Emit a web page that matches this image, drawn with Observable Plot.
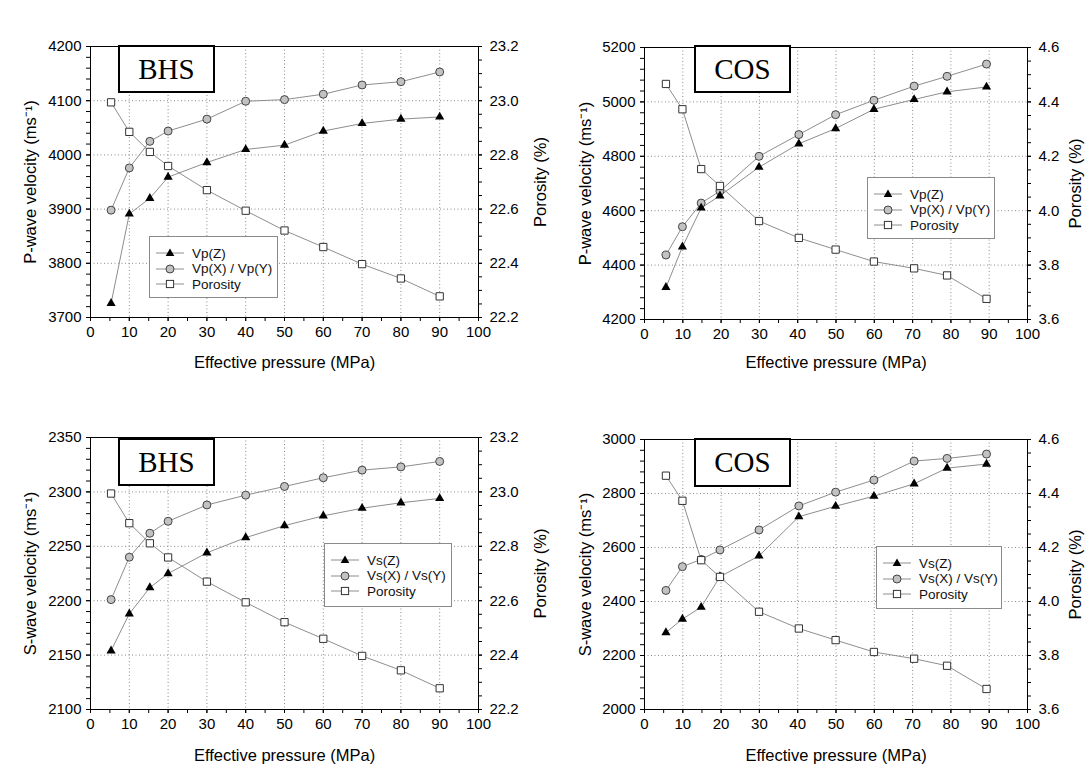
<!DOCTYPE html>
<html>
<head>
<meta charset="utf-8">
<script src="https://cdn.jsdelivr.net/npm/d3@7"></script>
<script src="https://cdn.jsdelivr.net/npm/@observablehq/plot@0.6"></script>
<style>
  body { margin: 0; background: #fff; }
  #wrap { position: relative; width: 1088px; height: 771px; overflow: hidden; background: #fff;
          font-family: "Liberation Sans", Arial, sans-serif; color: #000; }
  .panel { position: absolute; }
  .panel svg { position: absolute; left: 0; top: 0; }
  .tag { position: absolute; border: 2px solid #000; background: #fff; box-sizing: border-box;
         font-family: "Liberation Serif", "Times New Roman", serif; font-size: 29px;
         display: flex; align-items: center; justify-content: center; }
  .legend { position: absolute; border: 1px solid #8a8a8a; background: #fff; box-sizing: border-box; }
  .legend .row { position: absolute; left: 0; height: 16px; display: flex; align-items: center;
                 font-size: 13.5px; color: #111; white-space: nowrap; }
  .legend .row svg { display: block; margin-left: 6px; margin-right: 8px; }
</style>
</head>
<body>
<div id="wrap"></div>
<script>
// ---------- data ----------
const pressureBHS = [5.3, 10, 15.3, 20, 30, 40, 50, 60, 70, 80, 90];
const pressureCOS = [5.6, 9.9, 14.8, 19.7, 29.9, 40.3, 49.9, 59.9, 70.4, 79, 89.3];

const vpZ_BHS  = [3726, 3891, 3920, 3959, 3986, 4010, 4018, 4044, 4058, 4066, 4070];
const vpXY_BHS = [3898, 3976, 4025, 4044, 4066, 4099, 4102, 4112, 4129, 4135, 4153];
const vsZ_BHS  = [2154, 2188, 2212, 2225, 2244, 2258, 2269, 2278, 2285, 2290, 2294];
const vsXY_BHS = [2201, 2240, 2262, 2273, 2288, 2297, 2305, 2313, 2320, 2323, 2328];
const porosity_BHS = [22.994, 22.885, 22.811, 22.759, 22.670, 22.594, 22.521, 22.460, 22.397, 22.344, 22.278];

const vpZ_COS  = [4318, 4467, 4610, 4655, 4760, 4846, 4902, 4973, 5009, 5037, 5055];
const vpXY_COS = [4437, 4541, 4628, 4672, 4800, 4880, 4953, 5006, 5058, 5094, 5139];
const vsZ_COS  = [2285, 2335, 2379, 2492, 2569, 2714, 2753, 2790, 2836, 2894, 2909];
const vsXY_COS = [2441, 2529, 2556, 2591, 2665, 2754, 2805, 2850, 2920, 2930, 2946];
const porosity_COS = [4.466, 4.373, 4.153, 4.091, 3.962, 3.900, 3.857, 3.813, 3.788, 3.762, 3.676];

// tick labels
const xTicks = [0, 10, 20, 30, 40, 50, 60, 70, 80, 90, 100];
const vpTicksBHS = [3700, 3800, 3900, 4000, 4100, 4200];
const vsTicksBHS = [2100, 2150, 2200, 2250, 2300, 2350];
const vpTicksCOS = [4200, 4400, 4600, 4800, 5000, 5200];
const vsTicksCOS = [2000, 2200, 2400, 2600, 2800, 3000];
const porTicksBHS = [22.2, 22.4, 22.6, 22.8, 23.0, 23.2];
const porTicksCOS = [3.6, 3.8, 4.0, 4.2, 4.4, 4.6];

const xTitle = "Effective pressure (MPa)";
const porTitle = "Porosity (%)";

// ---------- drawing ----------
const FONT = "'Liberation Sans', Arial, sans-serif";
const LINE = "#8e8e8e";
const TICKFS = 15;
const TITLEFS = 16.5;
const GRID = { stroke: "#8a8a8a", strokeOpacity: 1, strokeDasharray: "1,2.5" };
const rows = (xs, ys) => xs.map((x, i) => ({ x, y: ys[i] }));
const minor = (ticks, n) => {
  const step = (ticks[1] - ticks[0]) / n, out = [];
  for (let v = ticks[0]; v <= ticks[ticks.length - 1] + step / 2; v += step) out.push(+v.toFixed(6));
  return out;
};

const wrap = document.getElementById("wrap");

function drawPanel(c) {
  const W = 544, H = c.h;
  const div = document.createElement("div");
  div.className = "panel";
  Object.assign(div.style, { left: c.left + "px", top: c.top + "px", width: W + "px", height: H + "px" });
  const common = {
    width: W, height: H,
    marginLeft: c.ml, marginRight: c.mr, marginTop: c.mt, marginBottom: c.mb,
    style: { background: "transparent", fontFamily: FONT, fontSize: TICKFS + "px", color: "#000", overflow: "visible" }
  };
  const vel = Plot.plot({
    ...common,
    x: { domain: [0, 100] },
    y: { domain: [c.vTicks[0], c.vTicks[c.vTicks.length - 1]] },
    marks: [
      Plot.gridX(xTicks.slice(1, -1), GRID),
      Plot.gridY(c.vTicks.slice(1, -1), GRID),
      Plot.axisX(minor(xTicks, 2), { tickSize: 4, tickFormat: () => "", label: null }),
      Plot.axisX(xTicks, { tickSize: 4, tickPadding: 5, fontSize: TICKFS, label: null }),
      Plot.axisY(minor(c.vTicks, 5), { tickSize: 4, tickFormat: () => "", label: null }),
      Plot.axisY(c.vTicks, { tickSize: 4, tickPadding: 5, fontSize: TICKFS, tickFormat: d3.format("d"), label: null }),
      Plot.frame({ stroke: "#000" }),
      Plot.text([xTitle], { frameAnchor: "bottom", dy: c.xdy, lineAnchor: "middle", textAnchor: "middle", fontSize: TITLEFS }),
      Plot.text([c.vTitle], { frameAnchor: "left", dx: c.ldx, rotate: -90, lineAnchor: "middle", textAnchor: "middle", fontSize: TITLEFS }),
      Plot.line(rows(c.xs, c.z), { x: "x", y: "y", stroke: LINE, strokeWidth: 1 }),
      Plot.line(rows(c.xs, c.xy), { x: "x", y: "y", stroke: LINE, strokeWidth: 1 }),
      Plot.dot(rows(c.xs, c.xy), { x: "x", y: "y", symbol: "circle", r: 4, fill: "#c2c2c2", stroke: "#444", strokeWidth: 1 }),
      Plot.dot(rows(c.xs, c.z), { x: "x", y: "y", symbol: "triangle", r: 3.4, fill: "#000" })
    ]
  });
  const por = Plot.plot({
    ...common,
    x: { domain: [0, 100], axis: null },
    y: { domain: [c.pTicks[0], c.pTicks[c.pTicks.length - 1]] },
    marks: [
      Plot.axisY(minor(c.pTicks, 4), { anchor: "right", tickSize: 3, tickFormat: () => "", label: null }),
      Plot.axisY(c.pTicks, { anchor: "right", tickSize: 3, tickPadding: 8, fontSize: TICKFS, tickFormat: d3.format(".1f"), label: null }),
      Plot.text([porTitle], { frameAnchor: "right", dx: c.rdx, rotate: -90, lineAnchor: "middle", textAnchor: "middle", fontSize: TITLEFS }),
      Plot.line(rows(c.xs, c.por), { x: "x", y: "y", stroke: LINE, strokeWidth: 1 }),
      Plot.dot(rows(c.xs, c.por), { x: "x", y: "y", symbol: "square", r: 4.1, fill: "#fff", stroke: "#333", strokeWidth: 1 })
    ]
  });
  div.appendChild(vel);
  div.appendChild(por);
  wrap.appendChild(div);

  // sample tag
  const tag = document.createElement("div");
  tag.className = "tag";
  tag.textContent = c.tag;
  Object.assign(tag.style, { left: c.tagBox[0] + "px", top: c.tagBox[1] + "px", width: c.tagBox[2] + "px", height: c.tagBox[3] + "px" });
  wrap.appendChild(tag);

  // legend
  const lg = document.createElement("div");
  lg.className = "legend";
  Object.assign(lg.style, { left: c.legBox[0] + "px", top: c.legBox[1] + "px", width: c.legBox[2] + "px", height: c.legBox[3] + "px" });
  const sym = [
    `<polygon points="14,2.5 18.3,10 9.7,10" fill="#000"/>`,
    `<circle cx="14" cy="7" r="4" fill="#c2c2c2" stroke="#444"/>`,
    `<rect x="10.4" y="3.4" width="7.2" height="7.2" fill="#fff" stroke="#333"/>`
  ];
  c.legend.forEach((name, i) => {
    const r = document.createElement("div");
    r.className = "row";
    r.style.top = (8 + i * 15.7) + "px";
    r.innerHTML = `<svg width="28" height="14"><line x1="0" y1="7" x2="28" y2="7" stroke="${LINE}"/>${sym[i]}</svg><span>${name}</span>`;
    lg.appendChild(r);
  });
  wrap.appendChild(lg);
}

const panels = [
  { left: 0, top: 0, h: 385, ml: 90, mr: 66, mt: 46, mb: 68, xdy: 45, ldx: -60, rdx: 62,
    xs: pressureBHS, z: vpZ_BHS, xy: vpXY_BHS, por: porosity_BHS,
    vTicks: vpTicksBHS, pTicks: porTicksBHS, vTitle: "P-wave velocity (ms⁻¹)",
    tag: "BHS", tagBox: [118, 45, 97, 48], legBox: [149, 236, 129, 62],
    legend: ["Vp(Z)", "Vp(X) / Vp(Y)", "Porosity"] },
  { left: 544, top: 0, h: 385, ml: 100, mr: 61, mt: 47, mb: 66, xdy: 43, ldx: -59, rdx: 48,
    xs: pressureCOS, z: vpZ_COS, xy: vpXY_COS, por: porosity_COS,
    vTicks: vpTicksCOS, pTicks: porTicksCOS, vTitle: "P-wave velocity (ms⁻¹)",
    tag: "COS", tagBox: [694, 45, 97, 48], legBox: [867, 177, 128, 62],
    legend: ["Vp(Z)", "Vp(X) / Vp(Y)", "Porosity"] },
  { left: 0, top: 385, h: 386, ml: 90, mr: 66, mt: 52, mb: 62, xdy: 46, ldx: -60, rdx: 62,
    xs: pressureBHS, z: vsZ_BHS, xy: vsXY_BHS, por: porosity_BHS,
    vTicks: vsTicksBHS, pTicks: porTicksBHS, vTitle: "S-wave velocity (ms⁻¹)",
    tag: "BHS", tagBox: [118, 438, 97, 48], legBox: [324, 543, 128, 64],
    legend: ["Vs(Z)", "Vs(X) / Vs(Y)", "Porosity"] },
  { left: 544, top: 385, h: 386, ml: 100, mr: 61, mt: 54, mb: 62, xdy: 46, ldx: -59, rdx: 48,
    xs: pressureCOS, z: vsZ_COS, xy: vsXY_COS, por: porosity_COS,
    vTicks: vsTicksCOS, pTicks: porTicksCOS, vTitle: "S-wave velocity (ms⁻¹)",
    tag: "COS", tagBox: [694, 438, 97, 49], legBox: [876, 546, 126, 63],
    legend: ["Vs(Z)", "Vs(X) / Vs(Y)", "Porosity"] }
];
panels.forEach(drawPanel);
</script>
</body>
</html>
